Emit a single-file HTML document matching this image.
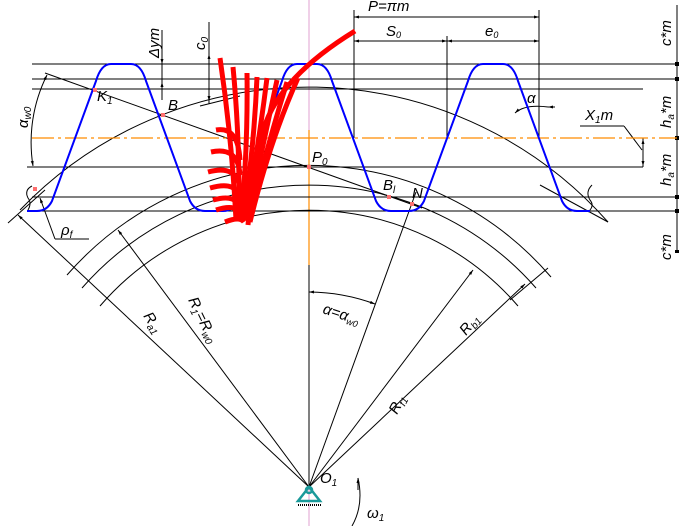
<!DOCTYPE html>
<html><head><meta charset="utf-8"><style>
html,body{margin:0;padding:0;background:#fff;}
svg{display:block;}
text{font-family:"Liberation Sans",sans-serif;font-style:italic;font-size:15px;fill:#000;}
</style></head><body>
<svg width="691" height="526" viewBox="0 0 691 526" xmlns="http://www.w3.org/2000/svg">
<defs>
<marker id="ar" viewBox="0 0 10 10" refX="10" refY="5" markerWidth="7" markerHeight="5" orient="auto-start-reverse"><path d="M0,2 L10,5 L0,8 z" fill="#000"/></marker>
</defs>
<line x1="309" y1="0" x2="309" y2="526" stroke="#e0a0d0" stroke-width="1"/>
<line x1="309" y1="130" x2="309" y2="265" stroke="#ff8c00" stroke-width="1.2"/>
<line x1="309" y1="265" x2="309" y2="487" stroke="#000" stroke-width="1"/>

<g stroke="#000" stroke-width="1" fill="none">
<line x1="32" y1="64" x2="677" y2="64"/>
<line x1="32" y1="79" x2="677" y2="79"/>
<line x1="32" y1="89" x2="643" y2="89"/>
<line x1="27" y1="167" x2="643" y2="167"/>
<line x1="32" y1="197" x2="677" y2="197"/>
<line x1="27" y1="211" x2="677" y2="211"/>
<line x1="677" y1="5" x2="677" y2="252"/>
<line x1="354" y1="10" x2="354" y2="138"/>
<line x1="447" y1="36" x2="447" y2="138"/>
<line x1="539" y1="10" x2="539" y2="138"/>
<line x1="354" y1="17" x2="539" y2="17" marker-start="url(#ar)" marker-end="url(#ar)"/>
<line x1="354" y1="41" x2="447" y2="41" marker-start="url(#ar)" marker-end="url(#ar)"/>
<line x1="447" y1="41" x2="539" y2="41" marker-start="url(#ar)" marker-end="url(#ar)"/>
<path d="M20,210 A400,400 0 0 1 608,222"/>
<path d="M67,275 A320,320 0 0 1 551,277"/>
<path d="M82,288 A302,302 0 0 1 536,288"/>
<path d="M100,306 A276,276 0 0 1 518,306"/>
<line x1="45" y1="73" x2="422" y2="208"/>
<line x1="309" y1="487" x2="18" y2="215" marker-end="url(#ar)"/>
<line x1="309" y1="487" x2="118" y2="230" marker-end="url(#ar)"/>
<line x1="309" y1="487" x2="416" y2="192"/>
<line x1="309" y1="487" x2="473" y2="270" marker-end="url(#ar)"/>
<line x1="309" y1="487" x2="525" y2="284" marker-end="url(#ar)"/>
<line x1="8" y1="223" x2="45" y2="190"/>
<line x1="510" y1="300" x2="548" y2="268"/>
<path d="M309,292 A195,195 0 0 1 375,304" marker-start="url(#ar)" marker-end="url(#ar)"/>
<path d="M47,75 A150,150 0 0 0 33,166" marker-start="url(#ar)" marker-end="url(#ar)"/>
<line x1="162" y1="30" x2="162" y2="100"/>
<line x1="162" y1="45" x2="162" y2="64" marker-end="url(#ar)"/>
<line x1="162" y1="100" x2="162" y2="82" marker-end="url(#ar)"/>
<line x1="209" y1="22" x2="209" y2="104"/>
<line x1="209" y1="80" x2="209" y2="54" marker-end="url(#ar)"/>
<line x1="209" y1="80" x2="209" y2="101" marker-end="url(#ar)"/>
<line x1="200" y1="106" x2="240" y2="96"/>
<line x1="55" y1="239" x2="40" y2="198" marker-end="url(#ar)"/>
<line x1="55" y1="239" x2="89" y2="239"/>
<path d="M32,186 Q24,190 28,198 Q32,203 28,210"/>
<path d="M592,185 Q585,192 590,200 Q595,206 588,212"/>
<line x1="540" y1="185" x2="608" y2="222"/>
<path d="M515,113 Q525,104 548,107" marker-start="url(#ar)"/>
<line x1="548" y1="107" x2="555" y2="107" marker-start="url(#ar)"/>
<line x1="580" y1="126" x2="624" y2="126"/>
<line x1="624" y1="126" x2="642" y2="150"/>
<line x1="643" y1="138" x2="643" y2="167"/>
<line x1="643" y1="152" x2="643" y2="139" marker-end="url(#ar)"/>
<line x1="643" y1="152" x2="643" y2="166" marker-end="url(#ar)"/>
<path d="M358,478 Q364,505 352,526" />
<line x1="358" y1="490" x2="358" y2="478" marker-end="url(#ar)"/>
</g>
<g fill="#000"><rect x="675" y="62" width="4" height="4"/><rect x="675" y="77" width="4" height="4"/><rect x="675" y="136" width="4" height="4"/><rect x="675" y="195" width="4" height="4"/><rect x="675" y="209" width="4" height="4"/><rect x="675" y="250" width="4" height="3"/></g>
<line x1="32" y1="138" x2="677" y2="138" stroke="#ff8c00" stroke-width="1.3" stroke-dasharray="22,4,3,4"/>
<path fill="none" stroke="#0000ff" stroke-width="2" d="M27,211 L37,211 Q47,211 52,201 L96,81 Q101,64 111,64 L131,64 Q141,64 146,81 L190,201 Q195,211 205,211 L223,211 Q233,211 238,201 L282,81 Q287,64 297,64 L317,64 Q327,64 332,81 L376,201 Q381,211 391,211 L409,211 Q419,211 424,201 L468,81 Q473,64 483,64 L503,64 Q513,64 518,81 L562,201 Q567,211 577,211 L590,211"/>
<g fill="none" stroke="#ff0000" stroke-width="5" stroke-linecap="butt">
<path d="M220,58 Q232,140 236,220"/>
<path d="M233,67 Q240,140 239,220"/>
<path d="M247,73 Q248,150 241,220"/>
<path d="M257,77 Q254,150 243,220"/>
<path d="M267,78 Q258,150 245,220"/>
<path d="M277,80 Q262,150 247,220"/>
<path d="M287,82 Q266,150 249,220"/>
<path d="M298,78 Q270,140 250,222"/>
<path d="M355,31 Q275,80 262,135 Q252,180 248,225"/>
<path d="M216,130 Q238,126 240,160"/>
<path d="M211,152 Q238,146 240,175"/>
<path d="M208,172 Q238,164 240,190"/>
<path d="M210,188 Q238,180 240,200"/>
<path d="M213,200 Q238,193 240,210"/>
<path d="M216,210 Q238,203 242,216"/>
<path d="M225,222 Q240,216 244,222"/>
</g>
<g fill="#ff7070"><rect x="93" y="88" width="4" height="4"/><rect x="161" y="113" width="4" height="4"/><rect x="307" y="165" width="4" height="4"/><rect x="387" y="195" width="4" height="4"/><rect x="410" y="202" width="4" height="4"/><rect x="33" y="187" width="4" height="4"/></g>
<g stroke="#1a9a9a" stroke-width="2.5" fill="none"><path d="M309,487 L298,501 L320,501 Z"/><circle cx="309" cy="490" r="3"/></g>
<line x1="298" y1="505" x2="322" y2="505" stroke="#000" stroke-width="2" stroke-dasharray="1,1"/>
<text x="97" y="101">K<tspan font-size="10" dy="3">1</tspan></text>
<text x="168" y="110">B</text>
<text x="312" y="162">P<tspan font-size="10" dy="3">0</tspan></text>
<text x="383" y="190">B<tspan font-size="10" dy="3">l</tspan></text>
<text x="412" y="198">N</text>
<text x="61" y="235" font-size="17">ρ<tspan font-size="10" dy="3">f</tspan></text>
<text x="320" y="483">O<tspan font-size="10" dy="3">1</tspan></text>
<text x="367" y="518">ω<tspan font-size="10" dy="3">1</tspan></text>
<text x="368" y="11" font-size="11">P=πm</text>
<text x="386" y="36" font-size="12">S<tspan font-size="9" dy="2">0</tspan></text>
<text x="485" y="36" font-size="12">e<tspan font-size="9" dy="2">0</tspan></text>
<text x="527" y="103" font-size="12">α</text>
<text x="585" y="120">X<tspan font-size="10" dy="3">1</tspan><tspan dy="-3">m</tspan></text>
<text transform="translate(159,58) rotate(-90)">Δym</text>
<text transform="translate(205,50) rotate(-90)">c<tspan font-size="10" dy="3">0</tspan></text>
<text transform="translate(28,128) rotate(-90)">α<tspan font-size="10" dy="3">w0</tspan></text>
<text transform="translate(671,46) rotate(-90)" font-size="14">c*m</text>
<text transform="translate(671,128) rotate(-90)" font-size="14">h<tspan font-size="10" dy="3">a</tspan><tspan dy="-3">*m</tspan></text>
<text transform="translate(671,186) rotate(-90)" font-size="14">h<tspan font-size="10" dy="3">a</tspan><tspan dy="-3">*m</tspan></text>
<text transform="translate(671,260) rotate(-90)" font-size="14">c*m</text>
<text transform="translate(322,313) rotate(18)" font-size="13">α=α<tspan font-size="9" dy="3">w0</tspan></text>
<text transform="translate(143,316) rotate(57)" font-size="14">R<tspan font-size="10" dy="3">a1</tspan></text>
<text transform="translate(188,300) rotate(64)" font-size="14">R<tspan font-size="10" dy="3">1</tspan><tspan dy="-3">=R</tspan><tspan font-size="10" dy="3">w0</tspan></text>
<text transform="translate(397,415) rotate(-62)" font-size="14">R<tspan font-size="10" dy="3">f1</tspan></text>
<text transform="translate(466,336) rotate(-50)" font-size="14">R<tspan font-size="10" dy="3">b1</tspan></text>
</svg>
</body></html>
